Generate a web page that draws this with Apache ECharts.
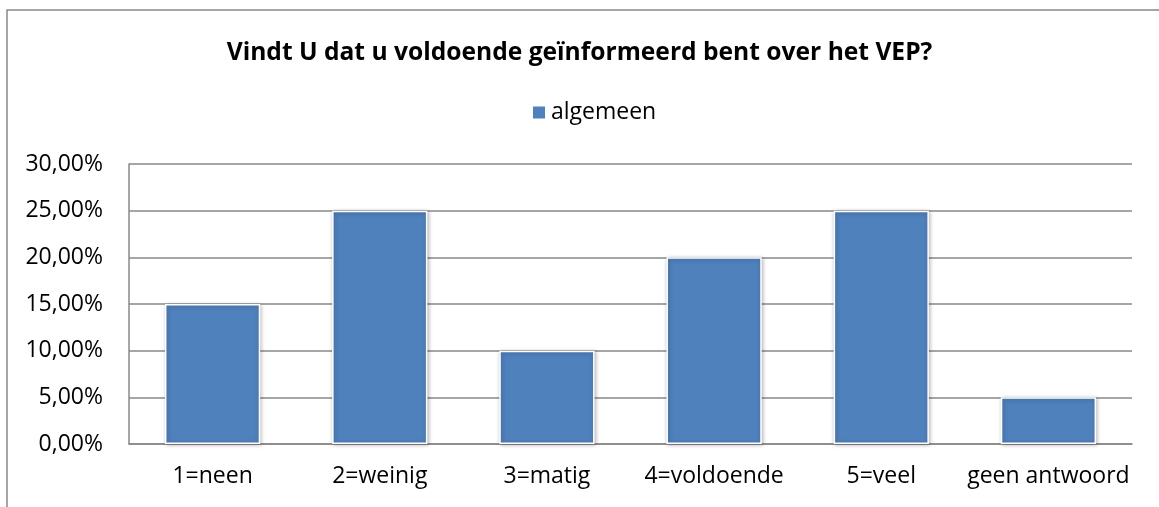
<!DOCTYPE html>
<html>
<head>
<meta charset="utf-8">
<script src="https://cdn.jsdelivr.net/npm/echarts@6/dist/echarts.min.js"></script>
<style>
  html, body { margin: 0; padding: 0; background: #fff; }
  #chart { width: 1159px; height: 507px; }
</style>
</head>
<body>
<div id="chart"></div>
<script>
// categorieen en waarden (in procenten)
const categories = ['1=neen', '2=weinig', '3=matig', '4=voldoende', '5=veel', 'geen antwoord'];
const algemeen = [15, 25, 10, 20, 25, 5];

const font = '"Open Sans", "Noto Sans", sans-serif';

const chart = echarts.init(document.getElementById('chart'));
chart.setOption({
  animation: false,
  title: {
    text: 'Vindt U dat u voldoende geïnformeerd bent over het VEP?',
    left: 'center',
    top: 35,
    textStyle: { fontFamily: font, fontSize: 24.6, fontWeight: 'bold', color: '#000' }
  },
  legend: {
    top: 96,
    left: 526,
    icon: 'rect',
    itemWidth: 14,
    itemHeight: 14,
    itemGap: 4,
    textStyle: { fontFamily: font, fontSize: 23, color: '#000' }
  },
  grid: { left: 129, right: 27, top: 164, bottom: 63 },
  xAxis: {
    type: 'category',
    data: categories,
    axisLine: { lineStyle: { color: '#888', width: 1.5 } },
    axisTick: { show: false },
    axisLabel: { fontFamily: font, fontSize: 23, color: '#000', margin: 21, interval: 0 }
  },
  yAxis: {
    type: 'value',
    min: 0,
    max: 30,
    interval: 5,
    axisLine: { show: true, lineStyle: { color: '#888', width: 1.5 } },
    axisTick: { show: false },
    splitLine: { lineStyle: { color: '#888', width: 1.5 } },
    axisLabel: {
      fontFamily: font, fontSize: 23, color: '#000', margin: 26,
      formatter: v => v.toFixed(2).replace('.', ',') + '%'
    }
  },
  graphic: [{
    type: 'rect',
    shape: { x: 7, y: 10, width: 1170, height: 520 },
    style: { fill: 'none', stroke: '#888', lineWidth: 1.5 },
    z: -1,
    silent: true
  }],
  series: [{
    name: 'algemeen',
    type: 'bar',
    data: algemeen,
    barWidth: '57%',
    itemStyle: {
      color: '#4F81BD',
      borderColor: '#fff',
      borderWidth: 1.5,
      shadowColor: 'rgba(0,0,0,0.3)',
      shadowBlur: 4,
      shadowOffsetX: 1,
      shadowOffsetY: 1
    }
  }]
});
</script>
</body>
</html>
